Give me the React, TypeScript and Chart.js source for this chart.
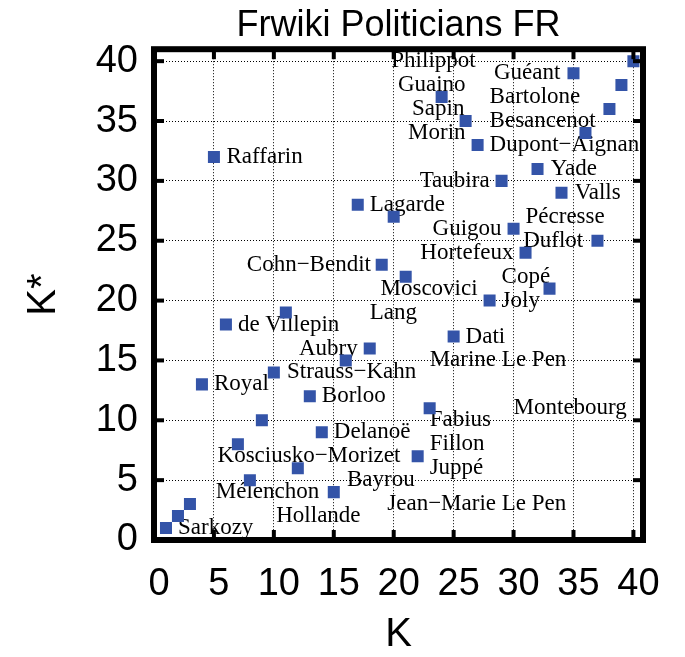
import React, { useEffect, useRef } from "react";
import { Chart, registerables } from "chart.js";

Chart.register(...registerables);

const TITLE = "Frwiki Politicians FR";
const X_TITLE = "K";
const Y_TITLE = "K*";
const TICKS = [0, 5, 10, 15, 20, 25, 30, 35, 40];

// points (K, K*)
const K_VALUES = [1, 2, 3, 15, 8, 12, 22, 7, 14, 9, 23, 13, 4, 10, 16, 18, 25, 6, 11, 28, 33, 21, 19, 31, 37, 30, 20, 17, 34, 29, 32, 5, 27, 36, 26, 38, 24, 39, 35, 40];
const KSTAR_VALUES = [1, 2, 3, 4, 5, 6, 7, 8, 9, 10, 11, 12, 13, 14, 15, 16, 17, 18, 19, 20, 21, 22, 23, 24, 25, 26, 27, 28, 29, 30, 31, 32, 33, 34, 35, 36, 37, 38, 39, 40];

// name labels, anchored in data units
const LABEL_NAMES = [
  "Sarkozy", "Hollande", "Jean\u2212Marie Le Pen", "Mélenchon", "Bayrou", "Juppé", "Kosciusko\u2212Morizet", "Fillon",
  "Delanoë", "Fabius", "Montebourg", "Borloo", "Royal", "Strauss\u2212Kahn", "Marine Le Pen", "Aubry", "Dati",
  "de Villepin", "Lang", "Joly", "Moscovici", "Copé", "Cohn\u2212Bendit", "Hortefeux", "Duflot", "Guigou",
  "Pécresse", "Lagarde", "Valls", "Taubira", "Yade", "Raffarin", "Dupont\u2212Aignan", "Morin", "Besancenot",
  "Sapin", "Bartolone", "Guaino", "Guéant", "Philippot",
];
const LABEL_K = [2.0, 10.2, 34.4, 5.15, 16.1, 23.0, 5.3, 23.0, 15.0, 23.0, 30.0, 14.0, 5.0, 11.1, 23.0, 17.0, 26.0, 7.0, 18.0, 29.0, 27.0, 29.0, 18.1, 30.0, 30.8, 29.0, 31.0, 18.0, 35.1, 28.0, 33.1, 6.05, 28.0, 26.0, 28.0, 25.9, 28.0, 26.0, 33.9, 19.8];
const LABEL_KSTAR = [1, 2, 3, 4, 5, 6, 7, 8, 9, 10, 11, 12, 13, 14, 15, 16, 17, 18, 19, 20, 21, 22, 23, 24, 25, 26, 27, 28, 29, 30, 31, 32, 33, 34, 35, 36, 37, 38, 39, 40];
const LABEL_ALIGN = [
  "left", "left", "right", "left", "left", "left", "left", "left", "left", "left", "left", "left", "left", "left",
  "left", "right", "left", "left", "left", "left", "right", "left", "right", "right", "left", "right", "left",
  "left", "left", "right", "left", "left", "left", "right", "left", "right", "left", "right", "right", "left",
];

export default function App() {
  const ref = useRef<HTMLCanvasElement>(null);

  useEffect(() => {
    const canvas = ref.current;
    if (!canvas) return;

    const framePlugin = {
      id: "framePlugin",
      beforeDatasetsDraw(chart: any) {
        const { ctx, scales } = chart;
        const x = scales.x;
        const y = scales.y;
        ctx.save();
        ctx.font = '23px "Liberation Serif"';
        ctx.fillStyle = "#000";
        ctx.textBaseline = "middle";
        LABEL_NAMES.forEach((n, i) => {
          ctx.textAlign = LABEL_ALIGN[i];
          ctx.fillText(n, x.getPixelForValue(LABEL_K[i]), y.getPixelForValue(LABEL_KSTAR[i]));
        });
        ctx.restore();
      },
      afterDatasetsDraw(chart: any) {
        const { ctx, chartArea: a, scales } = chart;
        const x = scales.x;
        const y = scales.y;
        const line = (x1: number, y1: number, x2: number, y2: number) => {
          ctx.beginPath();
          ctx.moveTo(x1, y1);
          ctx.lineTo(x2, y2);
          ctx.stroke();
        };
        ctx.save();
        ctx.strokeStyle = "#000";
        ctx.lineWidth = 4;
        TICKS.forEach((v) => {
          const px = x.getPixelForValue(v);
          line(px, a.bottom, px, a.bottom - 10);
          line(px, a.top, px, a.top + 10);
          const py = y.getPixelForValue(v);
          line(a.left, py, a.left + 10, py);
          line(a.right, py, a.right - 10, py);
        });
        ctx.lineWidth = 6;
        ctx.strokeRect(a.left, a.top, a.right - a.left, a.bottom - a.top);
        ctx.restore();
      },
    };

    const setTicks = (s: any) => {
      s.ticks = TICKS.map((v) => ({ value: v }));
    };

    const chart = new Chart(canvas, {
      type: "scatter",
      data: {
        datasets: [
          {
            data: K_VALUES.map((k, i) => ({ x: k, y: KSTAR_VALUES[i] })),
            pointStyle: "rect",
            pointRadius: 8.5,
            pointHoverRadius: 8.5,
            backgroundColor: "#3454a8",
            borderWidth: 0,
          },
        ],
      },
      options: {
        animation: false,
        responsive: false,
        events: [],
        layout: { padding: { left: 0, right: 42, top: 0, bottom: 0 } },
        plugins: {
          legend: { display: false },
          tooltip: { enabled: false },
          title: {
            display: true,
            text: TITLE,
            fullSize: false,
            color: "#000",
            font: { family: '"Liberation Sans", Arial, sans-serif', size: 36, weight: "normal", lineHeight: 1.2 },
            padding: { top: 4, bottom: 2 },
          },
        },
        scales: {
          x: {
            type: "linear",
            min: 0,
            max: 40.8,
            afterBuildTicks: setTicks,
            afterFit: (s: any) => {
              s.height = 117;
            },
            grid: { color: "#000", lineWidth: 1, drawTicks: false },
            border: { display: false, dash: [1, 2] },
            ticks: {
              color: "#000",
              padding: 22,
              labelOffset: 5,
              maxRotation: 0,
              autoSkip: false,
              font: { family: '"Liberation Sans", Arial, sans-serif', size: 38 },
            },
            title: {
              display: true,
              text: X_TITLE,
              color: "#000",
              padding: { top: 0, bottom: 0 },
              font: { family: '"Liberation Sans", Arial, sans-serif', size: 40, lineHeight: 1.1 },
            },
          },
          y: {
            type: "linear",
            min: 0,
            max: 41,
            afterBuildTicks: setTicks,
            afterFit: (s: any) => {
              s.width = 154;
            },
            grid: { color: "#000", lineWidth: 1, drawTicks: false },
            border: { display: false, dash: [1, 2] },
            ticks: {
              color: "#000",
              padding: 16,
              autoSkip: false,
              font: { family: '"Liberation Sans", Arial, sans-serif', size: 38 },
            },
            title: {
              display: true,
              text: Y_TITLE,
              color: "#000",
              padding: { top: 22, bottom: 0 },
              font: { family: '"Liberation Sans", Arial, sans-serif', size: 40, lineHeight: 1.1 },
            },
          },
        },
      },
      plugins: [framePlugin],
    } as any);

    return () => chart.destroy();
  }, []);

  return (
    <div style={{ position: "fixed", left: 0, top: 0, width: 685, height: 657, background: "#fff" }}>
      <canvas ref={ref} width={685} height={657} style={{ display: "block" }} />
    </div>
  );
}
